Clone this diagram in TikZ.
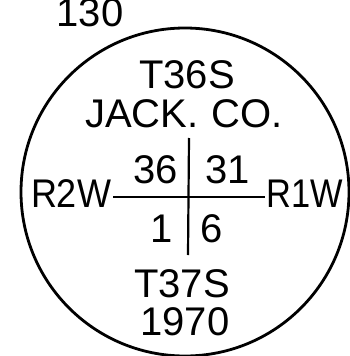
\documentclass[tikz,border=0pt]{standalone}
\usepackage{fontspec}
\setmainfont{Liberation Sans}
\begin{document}
\begin{tikzpicture}[x=1pt,y=-1pt,
  lbl/.style={anchor=base,inner sep=0pt,font=\fontsize{40}{48}\selectfont},
  rim/.style={line width=2.8pt},
  grid/.style={line width=2.2pt}]
\useasboundingbox (0,0) rectangle (350,356);
\node[draw,rim,circle,minimum size=328pt,inner sep=0pt] (ring) at (185,192) {};
\node[lbl] (n130) at (90,26) {130};
\node[lbl] (t36) at (187,88) {T36S};
\node[lbl] (jack) at (184,127) {JACK.\,\,CO.};
\node[lbl] (s36) at (156,183) {36};
\node[lbl] (s31) at (228,183) {31};
\node[lbl] (r2w) at (71,207) {\scalebox{0.9}[1]{R2W}};
\node[lbl] (r1w) at (305,207) {\scalebox{0.86}[1]{R1W}};
\node[lbl] (s1) at (162,242) {1};
\node[lbl] (s6) at (212,242) {6};
\node[lbl] (t37) at (182,297) {T37S};
\node[lbl] (yr) at (185,335) {1970};
\coordinate (hl) at (113,197);
\coordinate (hr) at (265,197);
\coordinate (vt) at (189,138);
\coordinate (vb) at (188,255);
\draw[grid] (hl) -- (hr);
\draw[grid] (vt) -- (vb);
\end{tikzpicture}
\end{document}
